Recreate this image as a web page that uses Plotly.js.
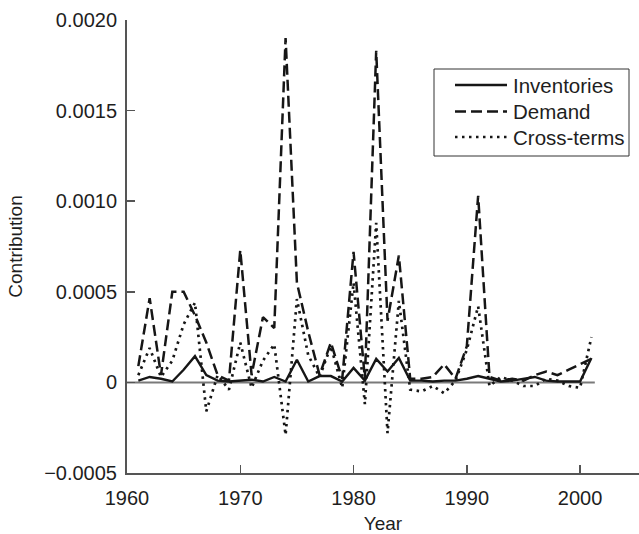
<!DOCTYPE html>
<html>
<head>
<meta charset="utf-8">
<script src="https://cdn.plot.ly/plotly-3.0.1.min.js"></script>
<style>html,body{margin:0;padding:0;background:#fff;}#chart{width:639px;height:534px;}</style>
</head>
<body>
<div id="chart"></div>
<script>
const years = [1961,1962,1963,1964,1965,1966,1967,1968,1969,1970,1971,1972,1973,1974,1975,1976,1977,1978,1979,1980,1981,1982,1983,1984,1985,1986,1987,1988,1989,1990,1991,1992,1993,1994,1995,1996,1997,1998,1999,2000,2001];

const inventories = [0.00001,0.00003,0.00002,0.000005,0.00007,0.000145,0.00004,0.00001,0.000005,0.00001,0.000015,0.000005,0.00003,0.000005,0.000125,0.000005,0.000035,0.000035,0.000005,0.00008,0.00001,0.00013,0.00006,0.000135,0.00001,0.00001,0.000005,0.00001,0.00001,0.00002,0.000035,0.00002,0.000005,0.00001,0.00002,0.00003,0.00001,0.000005,0.000005,0.000005,0.000135];

const demand = [0.00009,0.000465,0.00004,0.0005,0.0005,0.00037,0.00022,0.00004,0.00001,0.00073,0.00004,0.00036,0.0003,0.0019,0.00055,0.00028,0.00004,0.00022,0.00002,0.00072,0.00002,0.00183,0.00034,0.0007,0.00002,0.00002,0.00003,0.0001,0.00002,0.0002,0.00103,0.00003,0.00001,0.00002,0.00001,0.00004,0.00006,0.00004,0.00007,0.0001,0.00013];

const crossTerms = [0.00004,0.00019,0.00003,0.00012,0.00032,0.00044,-0.00016,0.00004,-0.00004,0.00022,-0.00003,0.00012,0.00021,-0.00029,0.00046,0.00015,0.00003,0.0002,-0.00003,0.00055,-0.00012,0.00088,-0.00028,0.00045,-0.00004,-0.00005,-0.00002,-0.00006,0.00001,0.00018,0.00042,-0.00002,0.00003,0.00001,-0.00002,-0.00002,0.00002,0.00001,-0.00002,-0.00003,0.00025];

const seriesNames = ["Inventories","Demand","Cross-terms"];
const xTickVals = [1960,1970,1980,1990,2000];
const yTickVals = [-0.0005,0,0.0005,0.0010,0.0015,0.0020];
const yTickText = ["\u22120.0005","0","0.0005","0.0010","0.0015","0.0020"];

const ink = "#161616";
const axisGray = "#555555";
const FONT = "'Liberation Sans', Arial, Helvetica, sans-serif";

const styles = [
  {width:2.4, dash:"solid"},
  {width:2.5, dash:"11px,5px"},
  {width:2.7, dash:"2.5px,4.5px"}
];
const values = [inventories, demand, crossTerms];

const traces = values.map((v,i)=>({
  type:"scatter", mode:"lines", x:years, y:v, name:seriesNames[i],
  line:{color:ink, width:styles[i].width, dash:styles[i].dash},
  showlegend:false, hoverinfo:"skip"
}));

// legend drawn with shapes/annotations in paper coords
const legX0 = (434-127)/512, legX1 = (629-127)/512;
const legY0 = 1-(156-20)/453, legY1 = 1-(69-20)/453;
const rowY = [85,111.5,137].map(p=>1-(p-20)/453);
const sampleX0 = (455-127)/512, sampleX1 = (507-127)/512, textX = (511-127)/512;

const shapes = [
  {type:"line", xref:"x", yref:"y", x0:xTickVals[0], x1:years[years.length-1]+0.3, y0:0, y1:0,
   line:{color:"#7a7a7a", width:2}, layer:"below"},
  {type:"rect", xref:"paper", yref:"paper", x0:legX0, x1:legX1, y0:legY0, y1:legY1,
   line:{color:"#333", width:1}, fillcolor:"#fff"}
];
const annotations = [];
seriesNames.forEach((n,i)=>{
  shapes.push({type:"line", xref:"paper", yref:"paper", x0:sampleX0, x1:sampleX1, y0:rowY[i], y1:rowY[i],
    line:{color:ink, width:styles[i].width, dash:styles[i].dash}});
  annotations.push({xref:"paper", yref:"paper", x:textX, y:rowY[i], xanchor:"left", yanchor:"middle",
    text:n, showarrow:false, font:{family:FONT, size:20.5, color:"#1e1e1e"}});
});

const layout = {
  width:639, height:534,
  margin:{l:127, r:0, t:20, b:61},
  paper_bgcolor:"#fff", plot_bgcolor:"#fff",
  font:{family:FONT, size:20, color:"#1e1e1e"},
  showlegend:false,
  xaxis:{
    range:[1960, 2005.2], tickmode:"array", tickvals:xTickVals,
    ticks:"inside", ticklen:8, tickwidth:1.5, tickcolor:axisGray,
    showline:true, linecolor:axisGray, linewidth:2, showgrid:false, zeroline:false,
    ticklabelstandoff:6,
    tickfont:{family:FONT, size:20, color:"#1e1e1e"},
    title:{text:"Year", font:{family:FONT, size:19, color:"#1e1e1e"}, standoff:9}
  },
  yaxis:{
    range:[-0.0005, 0.0020], tickmode:"array", tickvals:yTickVals, ticktext:yTickText,
    ticks:"inside", ticklen:8, tickwidth:1.5, tickcolor:axisGray,
    showline:true, linecolor:axisGray, linewidth:2, showgrid:false, zeroline:false,
    ticklabelstandoff:4,
    tickfont:{family:FONT, size:20, color:"#1e1e1e"},
    title:{text:"Contribution", font:{family:FONT, size:19, color:"#1e1e1e"}, standoff:16}
  },
  shapes:shapes,
  annotations:annotations
};

Plotly.newPlot("chart", traces, layout, {staticPlot:true, displayModeBar:false});
</script>
</body>
</html>
